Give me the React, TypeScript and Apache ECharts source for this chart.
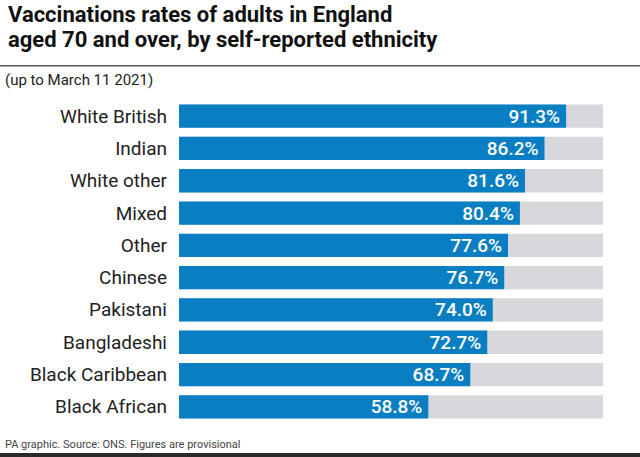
import React, { useEffect, useRef } from "react";
import * as echarts from "echarts";

const categories = [
  "White British",
  "Indian",
  "White other",
  "Mixed",
  "Other",
  "Chinese",
  "Pakistani",
  "Bangladeshi",
  "Black Caribbean",
  "Black African",
];
const values = [91.3, 86.2, 81.6, 80.4, 77.6, 76.7, 74.0, 72.7, 68.7, 58.8];

const titleLines = [
  "Vaccinations rates of adults in England",
  "aged 70 and over, by self-reported ethnicity",
];
const subtitle = "(up to March 11 2021)";
const footer = "PA graphic. Source: ONS. Figures are provisional";

const FONT = "Roboto";

export default function App() {
  const ref = useRef<HTMLDivElement>(null);
  useEffect(() => {
    if (!ref.current) return;
    const chart = echarts.init(ref.current, null, { renderer: "svg" });
    chart.setOption({
      animation: false,
      backgroundColor: "#ffffff",
      grid: { left: 179, right: 37, top: 100, bottom: 34 },
      xAxis: {
        type: "value",
        min: 0,
        max: 100,
        show: false,
      },
      yAxis: {
        type: "category",
        data: categories,
        inverse: true,
        axisLine: { show: false },
        axisTick: { show: false },
        axisLabel: {
          color: "#222222",
          fontSize: 19,
          fontFamily: FONT,
          margin: 12,
        },
      },
      series: [
        {
          type: "bar",
          data: values,
          barCategoryGap: "28%",
          itemStyle: { color: "#0a7ec2" },
          showBackground: true,
          backgroundStyle: { color: "#d7d7dc" },
          label: {
            show: true,
            position: "insideRight",
            distance: 6,
            color: "#ffffff",
            fontSize: 19,
            fontWeight: 500,
            fontFamily: FONT,
            formatter: (p: any) => p.value.toFixed(1) + "%",
          },
        },
      ],
      graphic: [
        {
          type: "text",
          left: 8,
          top: 3,
          style: {
            text: titleLines[0],
            font: `bold 22px ${FONT}`,
            fill: "#111111",
          },
        },
        {
          type: "text",
          left: 8,
          top: 28,
          style: {
            text: titleLines[1],
            font: `bold 22px ${FONT}`,
            fill: "#111111",
          },
        },
        {
          type: "rect",
          shape: { x: 0, y: 65, width: 640, height: 1.5 },
          style: { fill: "#555555" },
        },
        {
          type: "text",
          left: 5,
          top: 72,
          style: {
            text: subtitle,
            font: `15px ${FONT}`,
            fill: "#222222",
          },
        },
        {
          type: "text",
          left: 5,
          top: 439,
          style: {
            text: footer,
            font: `11px ${FONT}`,
            fill: "#444444",
          },
        },
        {
          type: "rect",
          shape: { x: 0, y: 453, width: 640, height: 4 },
          style: { fill: "#2a2a2a" },
        },
      ],
    });
    return () => chart.dispose();
  }, []);
  return (
    <div
      ref={ref}
      style={{ width: 640, height: 457, position: "absolute", left: 0, top: 0 }}
    />
  );
}
